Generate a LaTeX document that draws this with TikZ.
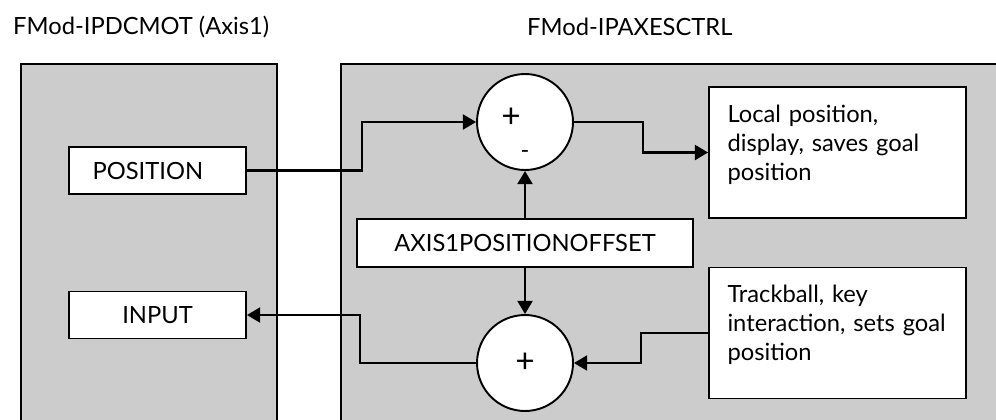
\documentclass[tikz,border=0pt]{standalone}
\usepackage{fontspec}
\setmainfont{Lato}
\usetikzlibrary{arrows.meta,positioning}
\definecolor{PanelGray}{HTML}{CCCCCC}

\begin{document}
\begin{tikzpicture}[x=0.02cm,y=-0.02cm,font=\fontsize{13.5}{16.5}\selectfont,
    panel/.style={draw,fill=PanelGray,line width=1.1pt},
    port/.style={draw,fill=white,line width=1.1pt,minimum width=3.54cm,minimum height=0.94cm,inner sep=0pt},
    info/.style={draw,fill=white,line width=1.1pt,minimum width=5.14cm,minimum height=2.62cm,
                 text width=4.4cm,align=left,inner xsep=0.37cm},
    sum/.style={circle,draw,fill=white,line width=1.1pt,minimum size=1.92cm,inner sep=0pt},
    sign/.style={font=\fontsize{19}{19}\selectfont},
    conn/.style={-{Triangle[length=7.5pt,width=8.5pt]},line width=1.4pt}]
    \clip (0,0) rectangle (996,419);
    % module panels
    \draw[panel] (21,64) rectangle (277,440);
    \draw[panel] (341,64) rectangle (1020,440);
    \node[anchor=west] (titleMot) at (7,27) {FMod-IPDCMOT (Axis1)};
    \node[anchor=west] (titleCtrl) at (521,27) {FMod-IPAXESCTRL};
    % blocks
    \node[port] (position) at (157.5,170.5) {\hspace*{-11pt}POSITION};
    \node[port] (input) at (157.5,315) {INPUT};
    \node[sum] (sumtop) at (525,122) {};
    \node[sign] (plustop) at (511,118) {+};
    \node (minustop) at (525,154) {-};
    \node[sum,sign] (sumbot) at (525,363) {+};
    \node[port,minimum width=6.72cm,minimum height=0.96cm] (offset) at (525,243) {AXIS1POSITIONOFFSET};
    \node[info] (local) at (837.5,152.5) {Local position,\\display, saves goal\\position\\[-5pt]\mbox{}};
    \node[info] (track) at (837.5,333) {Trackball, key\\interaction, sets goal\\position\\[-5pt]\mbox{}};
    % connectors
    \draw[conn] (position.east) -- ++(115,0) |- (sumtop.west);
    \draw[conn] (sumtop.east) -- ++(69,0) |- (local.west);
    \draw[conn] (offset.north) -- (sumtop.south);
    \draw[conn] (offset.south) -- (sumbot.north);
    \draw[conn] (track.west) -- ++(-67,0) |- (sumbot.east);
    \draw[conn] (sumbot.west) -- ++(-116,0) |- (input.east);
\end{tikzpicture}
\end{document}
